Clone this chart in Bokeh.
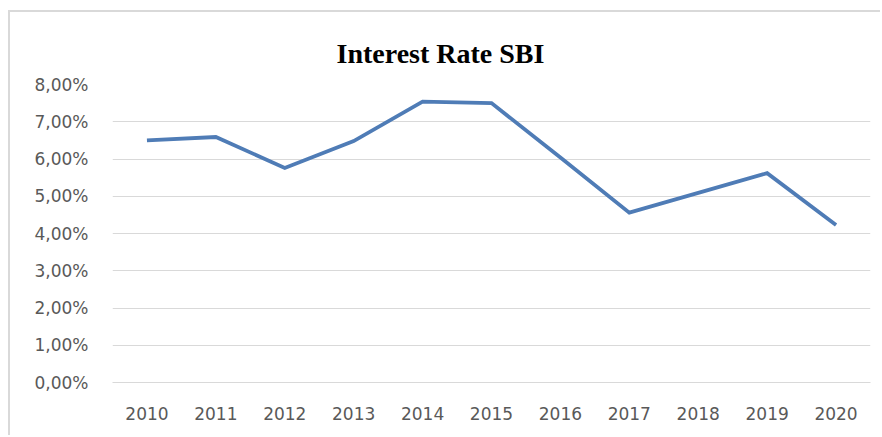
from bokeh.plotting import figure
from bokeh.models import FactorRange, Range1d, FixedTicker, ColumnDataSource
from bokeh.embed import file_html
from bokeh.resources import INLINE

years = ["2010", "2011", "2012", "2013", "2014", "2015", "2016", "2017", "2018", "2019", "2020"]
rates = [6.50, 6.59, 5.76, 6.48, 7.54, 7.50, 6.04, 4.56, 5.09, 5.62, 4.23]
y_ticks = [0, 1, 2, 3, 4, 5, 6, 7, 8]
y_tick_labels = ["0,00%", "1,00%", "2,00%", "3,00%", "4,00%", "5,00%", "6,00%", "7,00%", "8,00%"]
title_text = "Interest Rate SBI"

source = ColumnDataSource(data=dict(year=years, rate=rates))

p = figure(width=872, height=425,
           x_range=FactorRange(*years, range_padding=0),
           y_range=Range1d(0, 8),
           output_backend="svg", toolbar_location=None,
           min_border_left=102, min_border_right=12,
           min_border_top=72, min_border_bottom=55)
p.margin = (10, 0, 0, 8)
p.styles = {"border-left": "2px solid #d9d9d9", "border-top": "2px solid #d9d9d9"}

p.title.text = title_text
p.title.text_font = "Liberation Serif"
p.title.text_font_style = "bold"
p.title.text_font_size = "28px"
p.title.text_color = "#000000"
p.title.align = "left"
p.title.offset = 224
p.title.standoff = 31

p.line(x="year", y="rate", source=source, line_color="#4f7cb6", line_width=3.8, line_join="miter")

p.outline_line_color = None
p.xgrid.grid_line_color = None
p.ygrid.grid_line_color = "#d9d9d9"
p.ygrid.grid_line_width = 1

p.yaxis.ticker = FixedTicker(ticks=y_ticks)
p.yaxis.major_label_overrides = {t: l for t, l in zip(y_ticks, y_tick_labels)}
p.yaxis.axis_line_color = None
p.yaxis.major_tick_line_color = None
p.yaxis.minor_tick_line_color = None
p.yaxis.major_label_standoff = 18

p.xaxis.axis_line_color = "#d9d9d9"
p.xaxis.major_tick_line_color = None
p.xaxis.minor_tick_line_color = None
p.xaxis.major_label_standoff = 18

for ax in (p.xaxis, p.yaxis):
    ax.major_label_text_font = "DejaVu Sans"
    ax.major_label_text_font_size = "17px"
    ax.major_label_text_color = "#595959"

p.background_fill_color = "white"
p.border_fill_color = "white"

open("out.html", "w").write(file_html(p, INLINE))
